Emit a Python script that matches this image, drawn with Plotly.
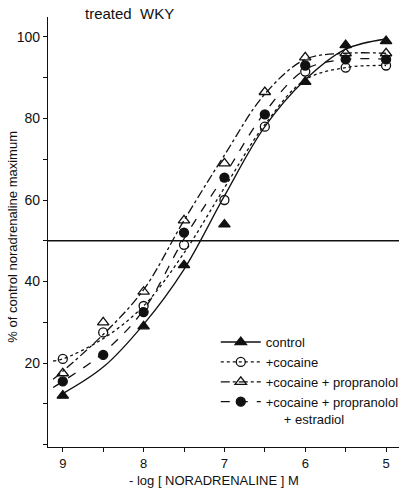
import plotly.graph_objects as go

# ---- data ----
dose_pts = [9, 8.5, 8, 7.5, 7, 6.5, 6, 5.5, 5]

control_x = [9, 8, 7.5, 7, 6, 5.5, 5]
control_y = [12, 29, 44, 54, 89, 98, 99]
cocaine_y = [21, 27.5, 34, 49, 60, 78, 91.5, 92.5, 93]
coc_prop_y = [17.5, 30, 37.5, 55, 69, 86.5, 95, 96, 96]
coc_prop_estr_y = [15.5, 22, 32.5, 52, 65.5, 81, 93, 94.5, 94.5]

# fitted curves
control_curve_x = [9, 8.5, 8, 7.5, 7, 6.5, 6, 5.5, 5]
control_curve_y = [12.5, 19, 29.5, 43, 61, 78, 89.5, 97, 99.5]
cocaine_curve_x = [9.12, 9, 8.5, 8, 7.5, 7, 6.5, 6, 5.5, 5]
cocaine_curve_y = [20.5, 21, 26, 34, 47, 63, 78.5, 89.5, 92.5, 93]
coc_prop_curve_x = [9.12, 9, 8.5, 8, 7.5, 7, 6.5, 6, 5.5, 5]
coc_prop_curve_y = [16, 18, 27, 38, 55, 71, 86, 94.5, 96, 96]
estr_curve_x = [9.12, 9, 8.5, 8, 7.5, 7, 6.5, 6, 5.5, 5]
estr_curve_y = [14, 15.5, 22.5, 33, 50.5, 66, 81.5, 92, 94.5, 94.5]

x_tickvals = [9, 8.5, 8, 7.5, 7, 6.5, 6, 5.5, 5]
x_ticktext = ["9", "", "8", "", "7", "", "6", "", "5"]
y_tickvals = [0, 10, 20, 30, 40, 50, 60, 70, 80, 90, 100]
y_ticktext = ["", "", "20", "", "40", "", "60", "", "80", "", "100"]

names = ["control", "+cocaine", "+cocaine + propranolol",
         "+cocaine + propranolol<br>\u00a0\u00a0\u00a0\u00a0\u00a0+ estradiol"]

FONT = "Liberation Sans, Arial, sans-serif"
INK = "#111111"

fig = go.Figure()

series = [
    (control_curve_x, control_curve_y, control_x, control_y, "solid", "triangle-up", INK, 10),
    (cocaine_curve_x, cocaine_curve_y, dose_pts, cocaine_y, "dot", "circle-open", INK, 9),
    (coc_prop_curve_x, coc_prop_curve_y, dose_pts, coc_prop_y, "dashdot", "triangle-up-open", INK, 10),
    (estr_curve_x, estr_curve_y, dose_pts, coc_prop_estr_y, "dash", "circle", INK, 9),
]

for (cx, cy, px, py, dash, sym, col, ms), nm in zip(series, names):
    fig.add_trace(go.Scatter(x=cx, y=cy, mode="lines",
                             line=dict(color=INK, width=1.3, dash=dash, shape="spline", smoothing=1.0),
                             showlegend=False, hoverinfo="skip"))
    fig.add_trace(go.Scatter(x=px, y=py, mode="markers",
                             marker=dict(symbol=sym, size=ms, color=col, line=dict(color=INK, width=1.3)),
                             showlegend=False))
    fig.add_trace(go.Scatter(x=[None], y=[None], mode="lines+markers", name=nm,
                             line=dict(color=INK, width=1.3, dash=dash),
                             marker=dict(symbol=sym, size=ms, color=col, line=dict(color=INK, width=1.3))))

fig.add_hline(y=50, line=dict(color=INK, width=1.5))

fig.update_layout(
    width=404, height=488,
    margin=dict(l=48, r=0, t=17, b=41),
    paper_bgcolor="white", plot_bgcolor="white",
    font=dict(family=FONT, size=13, color=INK),
    legend=dict(x=0.478, y=0.279, xanchor="left", yanchor="top", valign="top",
                bgcolor="rgba(0,0,0,0)", itemwidth=40, font=dict(size=13),
                tracegroupgap=0),
    xaxis=dict(range=[9.183, 4.84], showgrid=False, zeroline=False,
               showline=True, linecolor=INK, linewidth=1.4,
               ticks="outside", ticklen=4, tickcolor=INK, tickwidth=1.2,
               tickvals=x_tickvals, ticktext=x_ticktext, tickfont=dict(size=13)),
    yaxis=dict(range=[-0.6, 104.9], showgrid=False, zeroline=False,
               showline=True, linecolor=INK, linewidth=1.4,
               ticks="outside", ticklen=4, tickcolor=INK, tickwidth=1.2,
               tickvals=y_tickvals, ticktext=y_ticktext, tickfont=dict(size=14)),
    annotations=[
        dict(text="treated  WKY", x=0.232, y=1.0093, xref="paper", yref="paper",
             showarrow=False, font=dict(size=15), xanchor="center", yanchor="middle"),
        dict(text="% of control noradrenaline maximum", x=-0.101, y=0.488, xref="paper", yref="paper",
             showarrow=False, textangle=-90, font=dict(size=13), xanchor="center", yanchor="middle"),
        dict(text="- log [ NORADRENALINE ] M", x=0.472, y=-0.077, xref="paper", yref="paper",
             showarrow=False, font=dict(size=13), xanchor="center", yanchor="middle"),
    ],
)

fig.write_html("out.html")
